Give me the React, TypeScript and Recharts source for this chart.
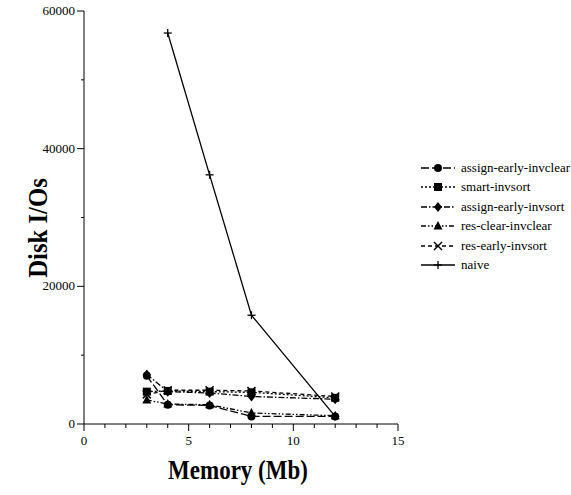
import { LineChart, Line, XAxis, YAxis } from 'recharts';

const MEMORY = [3, 4, 6, 8, 12];
const NAIVE_MEMORY = [4, 6, 8, 12];

const ASSIGN_EARLY_INVCLEAR = [7000, 2800, 2700, 1100, 1100];
const SMART_INVSORT = [4700, 4800, 4700, 4600, 3800];
const ASSIGN_EARLY_INVSORT = [7200, 4700, 4500, 4000, 3600];
const RES_CLEAR_INVCLEAR = [3500, 2900, 2800, 1600, 1200];
const RES_EARLY_INVSORT = [4300, 4900, 4900, 4800, 4000];
const NAIVE = [56800, 36200, 15800, 1100];

const X_TICKS = Array.from({ length: 16 }, (_, i) => i);
const Y_TICKS = [0, 10000, 20000, 30000, 40000, 50000, 60000];

const FONT = '"Liberation Serif", "DejaVu Serif", serif';

type Shape = 'circle' | 'square' | 'diamond' | 'triangle' | 'cross' | 'plus';

const SERIES: { key: string; name: string; shape: Shape; dash: string; xs: number[]; ys: number[] }[] = [
  { key: 'aei', name: 'assign-early-invclear', shape: 'circle', dash: '8 3', xs: MEMORY, ys: ASSIGN_EARLY_INVCLEAR },
  { key: 'si', name: 'smart-invsort', shape: 'square', dash: '2 2', xs: MEMORY, ys: SMART_INVSORT },
  { key: 'aeis', name: 'assign-early-invsort', shape: 'diamond', dash: '6 2 1.5 2', xs: MEMORY, ys: ASSIGN_EARLY_INVSORT },
  { key: 'rci', name: 'res-clear-invclear', shape: 'triangle', dash: '5 2 1.5 2 1.5 2', xs: MEMORY, ys: RES_CLEAR_INVCLEAR },
  { key: 'rei', name: 'res-early-invsort', shape: 'cross', dash: '4 3', xs: MEMORY, ys: RES_EARLY_INVSORT },
  { key: 'naive', name: 'naive', shape: 'plus', dash: '', xs: NAIVE_MEMORY, ys: NAIVE },
];

function Marker({ cx, cy, shape }: { cx: number; cy: number; shape: Shape }) {
  if (cx == null || cy == null) return null;
  switch (shape) {
    case 'circle':
      return <circle cx={cx} cy={cy} r={4} fill="#000" />;
    case 'square':
      return <rect x={cx - 4} y={cy - 4} width={8} height={8} fill="#000" />;
    case 'diamond':
      return <polygon points={`${cx},${cy - 5} ${cx + 4},${cy} ${cx},${cy + 5} ${cx - 4},${cy}`} fill="#000" />;
    case 'triangle':
      return <polygon points={`${cx},${cy - 5} ${cx + 4.5},${cy + 3.5} ${cx - 4.5},${cy + 3.5}`} fill="#000" />;
    case 'cross':
      return (
        <g stroke="#000" strokeWidth={1.5}>
          <line x1={cx - 4} y1={cy - 4} x2={cx + 4} y2={cy + 4} />
          <line x1={cx - 4} y1={cy + 4} x2={cx + 4} y2={cy - 4} />
        </g>
      );
    default:
      return (
        <g stroke="#000" strokeWidth={1.3}>
          <line x1={cx - 4} y1={cy} x2={cx + 4} y2={cy} />
          <line x1={cx} y1={cy - 4} x2={cx} y2={cy + 4} />
        </g>
      );
  }
}

function XTick({ x, y, payload }: any) {
  const major = payload.value % 5 === 0;
  return (
    <g>
      <line x1={x} x2={x} y1={y} y2={y + (major ? 7 : 4)} stroke="#000" />
      {major && (
        <text x={x} y={y + 21} textAnchor="middle" fontFamily={FONT} fontSize={13} fill="#000">
          {payload.value}
        </text>
      )}
    </g>
  );
}

function YTick({ x, y, payload }: any) {
  const major = payload.value % 20000 === 0;
  return (
    <g>
      <line x1={x} x2={x - (major ? 7 : 3)} y1={y} y2={y} stroke="#000" />
      {major && (
        <text x={x - 9} y={y + 4} textAnchor="end" fontFamily={FONT} fontSize={13} fill="#000">
          {payload.value}
        </text>
      )}
    </g>
  );
}

function ChartLegend() {
  return (
    <div style={{ position: 'absolute', left: 420, top: 158, fontFamily: FONT, fontSize: 13, color: '#000' }}>
      {SERIES.map((s) => (
        <div key={s.key} style={{ display: 'flex', alignItems: 'center', height: 19.5 }}>
          <svg width={36} height={12} style={{ marginRight: 5 }}>
            <line x1={1} x2={35} y1={6} y2={6} stroke="#000" strokeWidth={1.3} strokeDasharray={s.dash || undefined} />
            <Marker cx={18} cy={6} shape={s.shape} />
          </svg>
          <span>{s.name}</span>
        </div>
      ))}
    </div>
  );
}

export default function App() {
  return (
    <div style={{ position: 'absolute', left: 0, top: 0, width: 571, height: 495, background: '#fff' }}>
      <LineChart width={571} height={495} margin={{ top: 11, right: 173, bottom: 0, left: 0 }}>
        <XAxis
          type="number"
          dataKey="x"
          domain={[0, 15]}
          ticks={X_TICKS}
          interval={0}
          tick={<XTick />}
          tickLine={false}
          tickSize={0}
          tickMargin={0}
          height={71}
          stroke="#000"
          allowDuplicatedCategory={false}
        />
        <YAxis
          type="number"
          domain={[0, 60000]}
          ticks={Y_TICKS}
          interval={0}
          tick={<YTick />}
          tickLine={false}
          tickSize={0}
          tickMargin={0}
          width={84}
          stroke="#000"
        />
        {SERIES.map((s) => (
          <Line
            key={s.key}
            data={s.xs.map((x, i) => ({ x, y: s.ys[i] }))}
            dataKey="y"
            name={s.name}
            stroke="#000"
            strokeWidth={1.3}
            strokeDasharray={s.dash || undefined}
            dot={(p: any) => <Marker key={`${s.key}-${p.index}`} cx={p.cx} cy={p.cy} shape={s.shape} />}
            activeDot={false}
            isAnimationActive={false}
          />
        ))}
        <text transform="translate(38 228) rotate(-90) scale(0.95 1.05)" textAnchor="middle" dominantBaseline="central" fontFamily={FONT} fontWeight="bold" fontSize={26} fill="#000">
          Disk I/Os
        </text>
        <text transform="translate(238 479) scale(0.92 1.1)" textAnchor="middle" fontFamily={FONT} fontWeight="bold" fontSize={25} fill="#000">
          Memory (Mb)
        </text>
      </LineChart>
      <ChartLegend />
    </div>
  );
}
